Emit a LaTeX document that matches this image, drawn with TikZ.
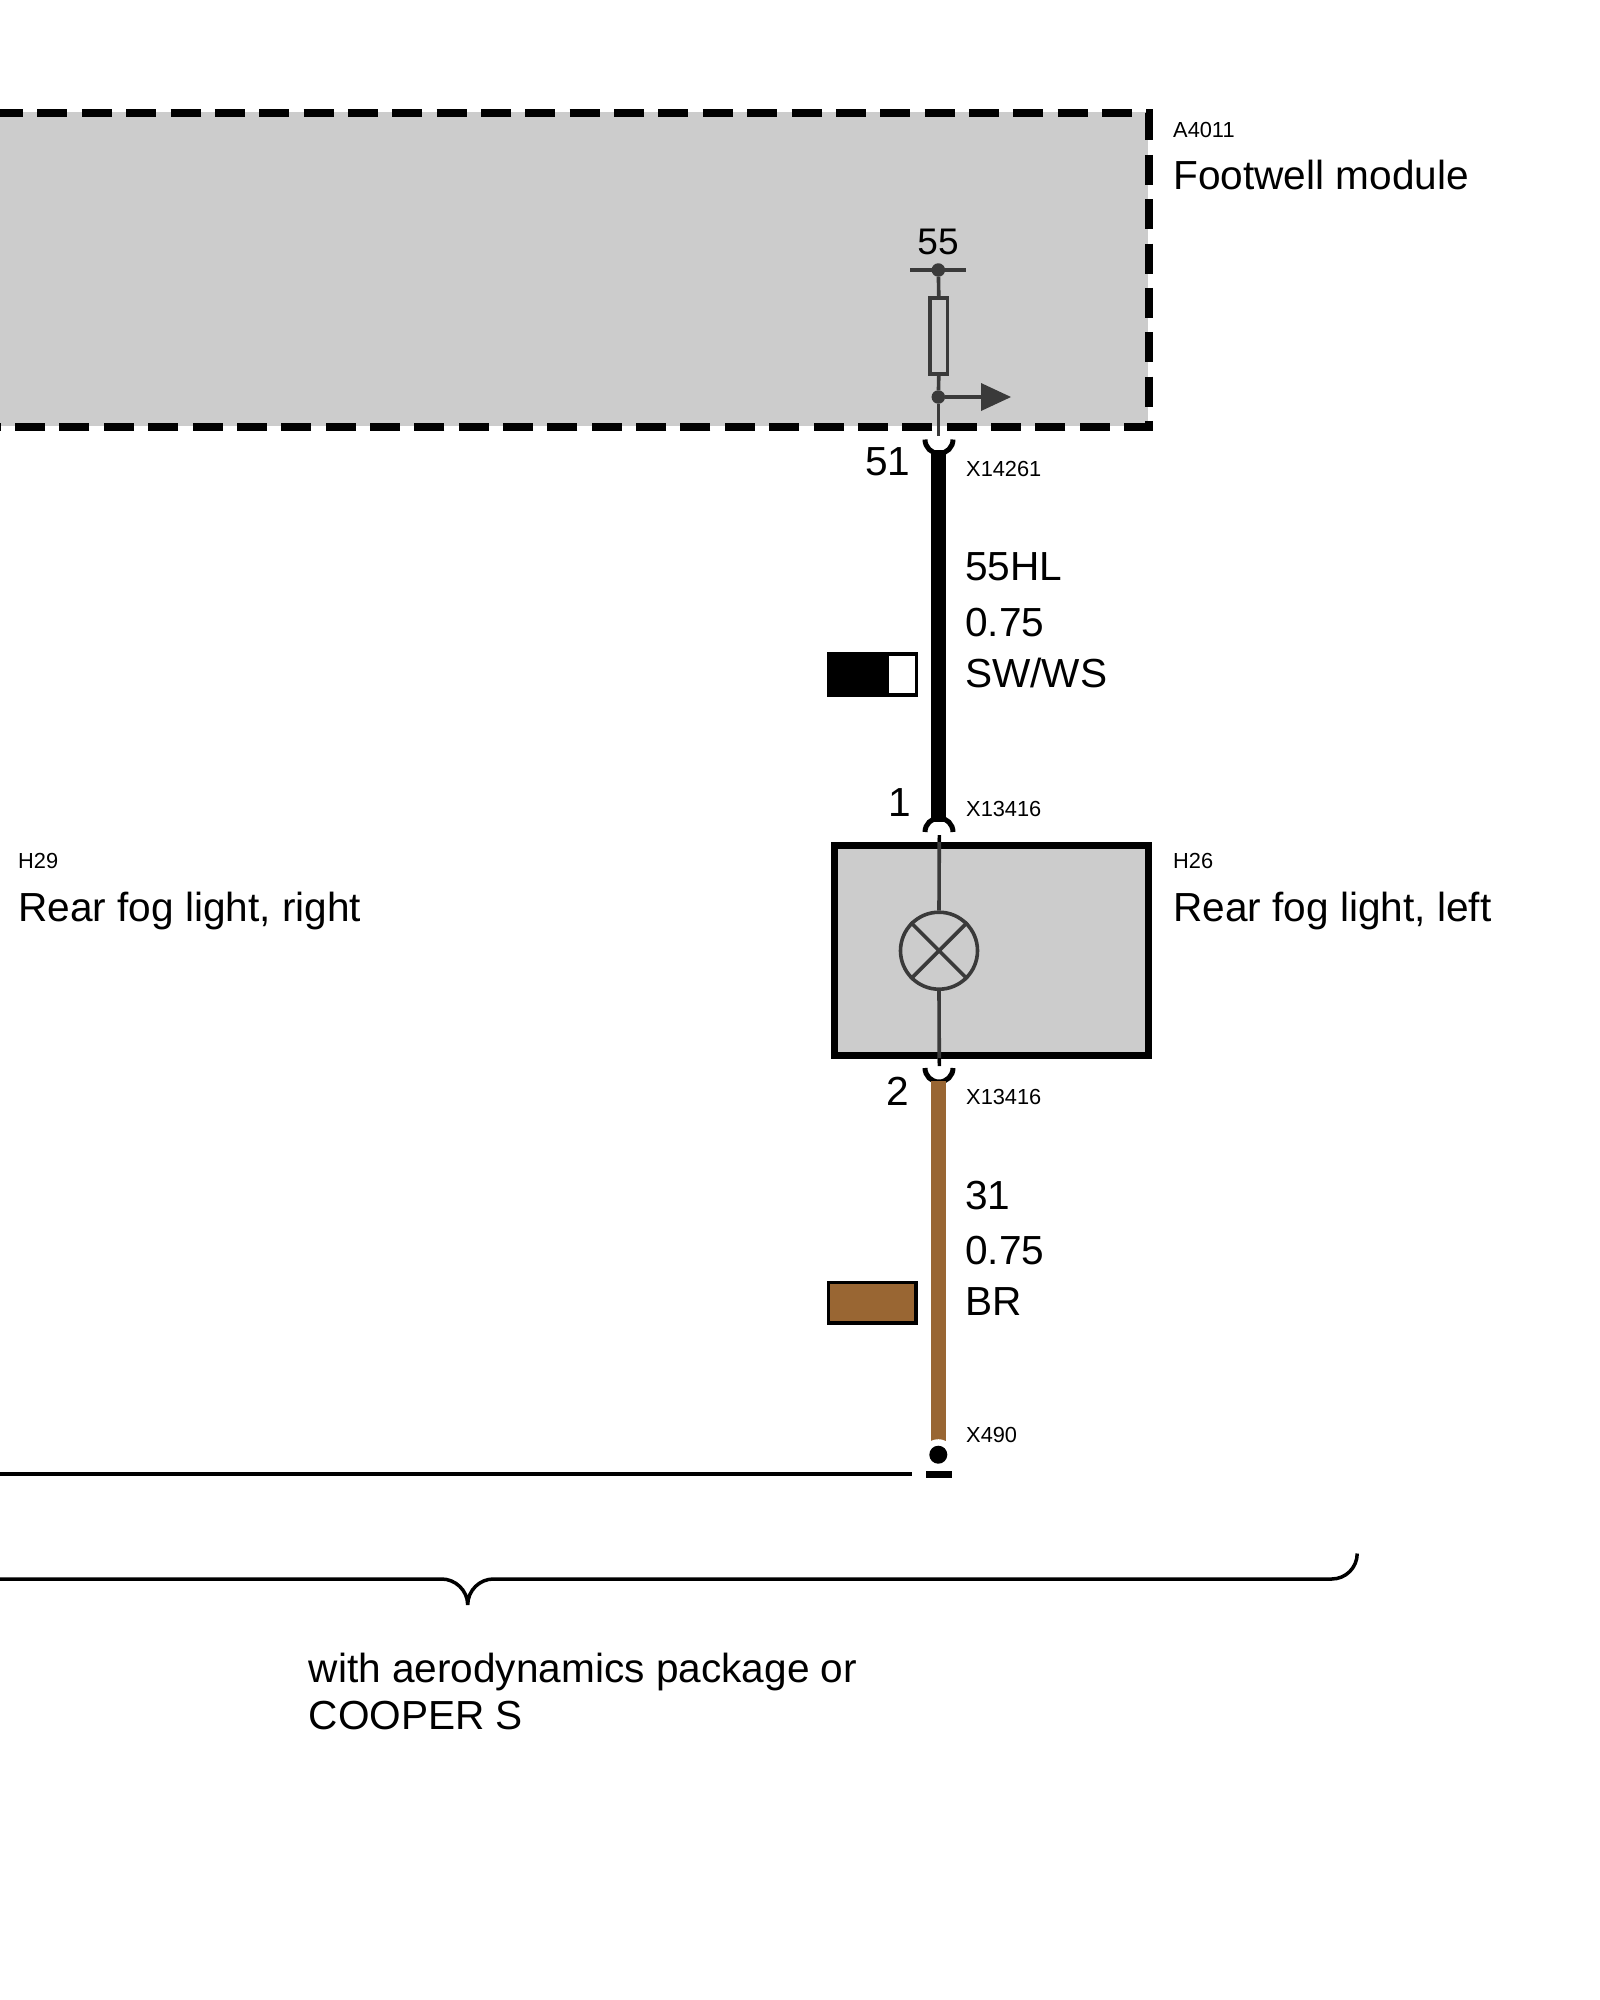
\documentclass[tikz,border=0pt]{standalone}
\usepackage{fontspec}
\setmainfont{Liberation Sans}
\definecolor{panel}{HTML}{CCCCCC}
\definecolor{inner}{HTML}{3A3A3A}
\definecolor{brownwire}{HTML}{996633}
\tikzset{
  big/.style={anchor=base west,inner sep=0pt,font=\fontsize{40.6}{40.6}\selectfont},
  small/.style={anchor=base west,inner sep=0pt,font=\fontsize{21.8}{21.8}\selectfont},
  thin wire/.style={draw=inner,line width=3.6pt},
  cup/.style={draw=black,line width=5pt},
  dotmark/.style={circle,fill=inner,inner sep=0pt,minimum size=13.5pt},
}
\begin{document}
\begin{tikzpicture}[x=1pt,y=-1pt]
\useasboundingbox (0,0) rectangle (1600,2000);
\clip (0,0) rectangle (1600,2000);
% footwell module
\fill[panel] (-60,112) rectangle (1148,426);
\draw[black,line width=8pt,dash pattern=on 30pt off 14.36pt,miter limit=10] (-51.3,112.5) -- (1148.5,112.5) -- (1148.5,426.5) -- (-60,426.5);
\draw[thin wire] (910,270) -- (966,270);
\node[dotmark] (p55) at (938.3,270) {};
\node[dotmark] (branch) at (938.3,397) {};
\node[draw=inner,line width=3.6pt,fill=panel,inner sep=0pt,minimum width=17.5pt,minimum height=76pt] (fuse) at (938.8,336) {};
\coordinate (wa) at (938.3,436);
\draw[thin wire] (p55) -- (fuse.north);
\draw[thin wire] (fuse.south) -- (branch);
\draw[thin wire] (branch) -- (wa);
\coordinate (tipbase) at (981,397);
\draw[thin wire] (branch) -- (tipbase);
\fill[inner] (981,383) -- (1011,397) -- (981,411) -- cycle;
% black wire
\coordinate (c1) at (938.5,450);
\coordinate (c2) at (938.5,822);
\draw[black,line width=15.6pt] (c1) -- (c2);
\draw[cup] (925,439.5) arc[start angle=180,end angle=0,radius=14];
\draw[cup] (925,832) arc[start angle=180,end angle=360,radius=14];
% lamp box
\fill[panel] (834.5,845.5) rectangle (1148.5,1055);
\coordinate (la) at (939.3,835);
\coordinate (lb) at (939.3,1066);
\draw[draw=black,line width=7pt] (834.5,845.5) rectangle (1148.5,1055);
\node[circle,draw=inner,line width=3.6pt,fill=panel,inner sep=0pt,minimum size=77pt] (lamp) at (939,950.7) {};
\draw[thin wire] (la) -- (lamp.north);
\draw[thin wire] (lamp.south) -- (lb);
\draw[black,line width=3.6pt] (la) -- (939.3,842) (939.3,1058) -- (lb);
\draw[draw=inner,line width=3.6pt] (lamp.north west) -- (lamp.south east) (lamp.north east) -- (lamp.south west);
\draw[cup] (925,1068) arc[start angle=180,end angle=0,radius=14];
% brown wire
\coordinate (b1) at (938.5,1081);
\coordinate (b2) at (938.5,1446);
\draw[brownwire,line width=15.6pt] (b1) -- (b2);
\fill[white] (938.3,1454.7) circle (15.5);
\node[circle,fill=black,inner sep=0pt,minimum size=18pt] (gnd) at (938.3,1454.7) {};
\fill[black] (925.7,1470.7) rectangle (951.7,1478);
\coordinate (gl) at (0,1474.3);
\coordinate (gr) at (912,1474.3);
\draw[black,line width=3.8pt] (gl) -- (gr);
% swatches
\fill[black] (826.7,652.3) rectangle (889,696.7);
\draw[black,line width=3.3pt] (828.4,654) rectangle (916.6,695);
\fill[white] (889,655.7) rectangle (915,693.3);
\draw[black,line width=3.5pt,fill=brownwire] (828.5,1282.5) rectangle (916,1323);
% brace
\draw[black,line width=3.5pt,line join=bevel] (-10,1579) -- (441.7,1579) .. controls (455,1579) and (467.7,1590) .. (467.7,1605) .. controls (467.7,1590) and (480,1579) .. (493.3,1579) -- (1331.7,1579) arc[start angle=90,end angle=0,radius=25.5];
% labels
\node[small] (t1) at (1173,137) {A4011};
\node[big] (t2) at (1173,189) {Footwell module};
\node[anchor=base,inner sep=0pt,font=\fontsize{37}{37}\selectfont] (t3) at (938,254) {55};
\node[big] (t4) at (865,475) {51};
\node[small] (t5) at (966,476.5) {X14261};
\node[big] (t6) at (965,580) {55HL};
\node[big] (t7) at (965,636) {0.75};
\node[big] (t8) at (965,687) {SW/WS};
\node[big] (t9) at (888.5,816.5) {1};
\node[small] (t10) at (966,816.5) {X13416};
\node[small] (t11) at (18,868.5) {H29};
\node[big] (t12) at (18,921) {Rear fog light, right};
\node[small] (t13) at (1173,868.5) {H26};
\node[big] (t14) at (1173,921) {Rear fog light, left};
\node[big] (t15) at (886.5,1105) {2};
\node[small] (t16) at (966,1104.5) {X13416};
\node[big] (t17) at (965,1209) {31};
\node[big] (t18) at (965,1264) {0.75};
\node[big] (t19) at (965,1315) {BR};
\node[small] (t20) at (966,1442) {X490};
\node[big] (t21) at (308.5,1682) {with aerodynamics package or};
\node[big] (t22) at (308.5,1729.5) {COOPER S};
\end{tikzpicture}
\end{document}
